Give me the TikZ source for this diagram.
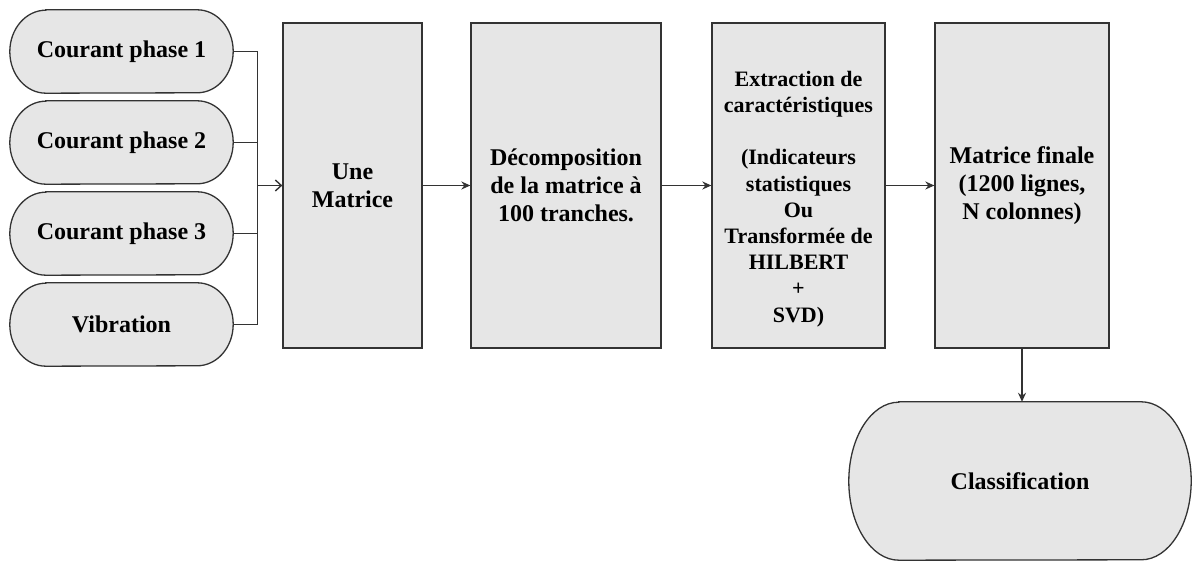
\documentclass[tikz,border=0pt]{standalone}
\usepackage{fontspec}
\setmainfont{Liberation Serif}
\usetikzlibrary{arrows.meta,calc,backgrounds}

\definecolor{boxfill}{HTML}{E6E6E6}
\definecolor{boxline}{HTML}{333333}

\tikzset{
  outline/.style={draw=boxline, fill=boxfill, line width=1.3pt},
  txt/.style={font=\bfseries\fontsize{24}{28}\selectfont, align=center, text=black},
  smalltxt/.style={font=\bfseries\fontsize{22}{26.2}\selectfont, align=center, text=black},
  pillnode/.style={txt, minimum width=223pt, minimum height=83pt, inner sep=0pt},
  stepbox/.style={outline, txt, minimum height=325pt, inner sep=0pt},
  link/.style={draw=boxline, line width=1.4pt},
  fwd/.style={link, -{Stealth[length=9pt,width=8pt]}},
  openfwd/.style={link, -{Straight Barb[length=6pt,width=11pt]}}
}

% rounded terminator outline with elliptical ends, drawn around a named node
\newcommand{\termshape}[3]{%
  \path[outline]
    ($(#1.north west)+(#2,0)$) -- ($(#1.north east)+(-#2,0)$)
    arc[start angle=90, end angle=-90, x radius=#2, y radius=#3]
    -- ($(#1.south west)+(#2,0)$)
    arc[start angle=270, end angle=90, x radius=#2, y radius=#3]
    -- cycle;}

\begin{document}
\begin{tikzpicture}[x=1pt, y=1pt]
\useasboundingbox (0,0) rectangle (1192,561);

% input signals
\node[pillnode] (p1) at (121.5,509.5) {Courant phase 1};
\node[pillnode] (p2) at (121.5,418.5) {Courant phase 2};
\node[pillnode] (p3) at (121.5,327.5) {Courant phase 3};
\node[pillnode] (p4) at (121.5,236.5) {Vibration};

% processing chain
\node[stepbox, minimum width=139pt] (b1) at (352.5,375.5) {Une\\Matrice};
\node[stepbox, minimum width=190pt] (b2) at (566,375.5) {Décomposition\\de la matrice à\\100 tranches.};
\node[stepbox, minimum width=173pt] (b3) at (798.5,375.5) {};
\node[smalltxt] (b3t) at ($(b3.center)+(0,-13.5)$) {Extraction de\\caractéristiques\\[26.2pt](Indicateurs\\statistiques\\Ou\\Transformée de\\HILBERT\\+\\SVD)};
\node[stepbox, minimum width=174pt] (b4) at (1022,375.5) {Matrice finale\\(1200 lignes,\\N colonnes)};

% final stage
\node[txt, minimum width=342pt, minimum height=158pt, inner sep=0pt] (cls) at (1020,80) {Classification};

\begin{scope}[on background layer]
  \termshape{p1}{36}{41.5}
  \termshape{p2}{36}{41.5}
  \termshape{p3}{36}{41.5}
  \termshape{p4}{36}{41.5}
  \termshape{cls}{50}{79}
\end{scope}

% merging the four signals into the matrix
\coordinate (merge) at ($(b1.west)+(-25,0)$);
\draw[link] (p1.east) -| (merge);
\draw[link] (p2.east) -| (merge);
\draw[link] (p3.east) -| (merge);
\draw[link] (p4.east) -| (merge);
\draw[openfwd] (merge) -- (b1.west);

\draw[fwd] (b1.east) -- (b2.west);
\draw[fwd] (b2.east) -- (b3.west);
\draw[fwd] (b3.east) -- (b4.west);
\draw[fwd] (b4.south) -- (b4.south |- cls.north);
\end{tikzpicture}
\end{document}
